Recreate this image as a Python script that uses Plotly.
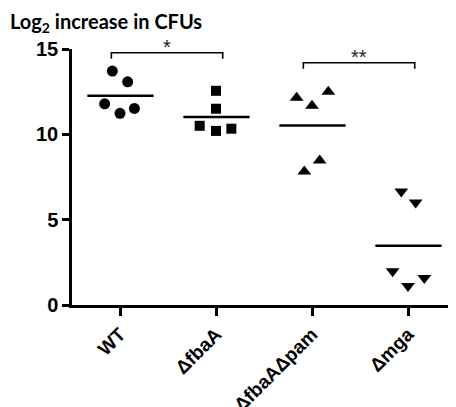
import numpy as np
import plotly.graph_objects as go

# ---- data ----
groups = ["WT", "ΔfbaA", "ΔfbaAΔpam", "Δmga"]
wt_vals = [13.71, 13.08, 11.79, 11.23, 11.52]
fbaA_vals = [12.55, 11.50, 10.50, 10.20, 10.33]
pam_vals = [12.14, 11.68, 12.49, 8.46, 7.82]
mga_vals = [6.65, 6.01, 1.98, 1.11, 1.58]
# horizontal scatter offsets of the points within each column
wt_jit = [-0.08, 0.08, -0.16, 0.00, 0.15]
fbaA_jit = [0.00, 0.00, -0.17, 0.00, 0.16]
pam_jit = [-0.16, 0.00, 0.17, 0.08, -0.08]
mga_jit = [-0.07, 0.08, -0.16, 0.00, 0.17]
y_ticks = [0, 5, 10, 15]
sig_pairs = [(0, 1, "*"), (2, 3, "**")]

series = [
    (wt_vals, wt_jit, "circle", 11),
    (fbaA_vals, fbaA_jit, "square", 10),
    (pam_vals, pam_jit, "triangle-up", 12),
    (mga_vals, mga_jit, "triangle-down", 12),
]

X_RANGE = [-0.5, 3.5]
Y_RANGE = [0, 15]

# the page body adds an 8px offset, so the figure is 8px smaller
W, H = 448, 399


def xp(v):
    return (v - X_RANGE[0]) / (X_RANGE[1] - X_RANGE[0])


def yp(v):
    return (v - Y_RANGE[0]) / (Y_RANGE[1] - Y_RANGE[0])


fig = go.Figure()
for i, (vals, jit, sym, sz) in enumerate(series):
    xs = [i + j for j in jit]
    fig.add_trace(go.Scatter(
        x=xs, y=vals, mode="markers",
        marker=dict(symbol=sym, size=sz, color="black", line=dict(width=0)),
        showlegend=False, cliponaxis=False,
    ))
    m = float(np.mean(vals))
    fig.add_trace(go.Scatter(
        x=[i - 0.34, i + 0.35], y=[m, m], mode="lines",
        line=dict(color="black", width=2.5), showlegend=False,
    ))

# significance brackets
bracket_y = [14.78, 14.19]
for (a, b, lab), by in zip(sig_pairs, bracket_y):
    x0, x1 = a - 0.09, b + 0.07
    drop = 0.35
    fig.add_shape(
        type="path", xref="paper", yref="paper",
        path=f"M {xp(x0)},{yp(by - drop)} L {xp(x0)},{yp(by)} L {xp(x1)},{yp(by)} L {xp(x1)},{yp(by - drop)}",
        line=dict(color="black", width=1.6),
    )
    fig.add_annotation(
        x=xp((x0 + x1) / 2), y=yp(by), xref="paper", yref="paper",
        text=lab, showarrow=False, xanchor="center", yanchor="bottom", yshift=-7,
        font=dict(family="Liberation Sans", size=20, color="#222"),
    )

fig.update_layout(
    width=W, height=H,
    margin=dict(l=64, r=0, t=41, b=102, autoexpand=False),
    plot_bgcolor="white", paper_bgcolor="white",
    title=dict(
        text="Log<sub>2</sub> increase in CFUs",
        xref="container", yref="container", x=2 / W, y=1 - 14 / H,
        xanchor="left", yanchor="middle",
        font=dict(family="Lato", size=20, color="black", weight="bold"),
    ),
)
fig.update_xaxes(
    range=X_RANGE, tickmode="array", tickvals=list(range(len(groups))), ticktext=groups,
    tickangle=-45, showline=True, linecolor="black", linewidth=2.5,
    ticks="outside", ticklen=8, tickwidth=2.5, tickcolor="black",
    showgrid=False, zeroline=False, automargin=False,
    tickfont=dict(family="Liberation Sans", size=19, color="black", weight="bold"),
)
fig.update_yaxes(
    range=Y_RANGE, tickvals=y_ticks, showline=True, linecolor="black", linewidth=2.5,
    ticks="outside", ticklen=7, tickwidth=2.5, tickcolor="black",
    showgrid=False, zeroline=False, automargin=False,
    tickfont=dict(family="Liberation Sans", size=20, color="black", weight="bold"),
)

fig.write_html("out.html")
